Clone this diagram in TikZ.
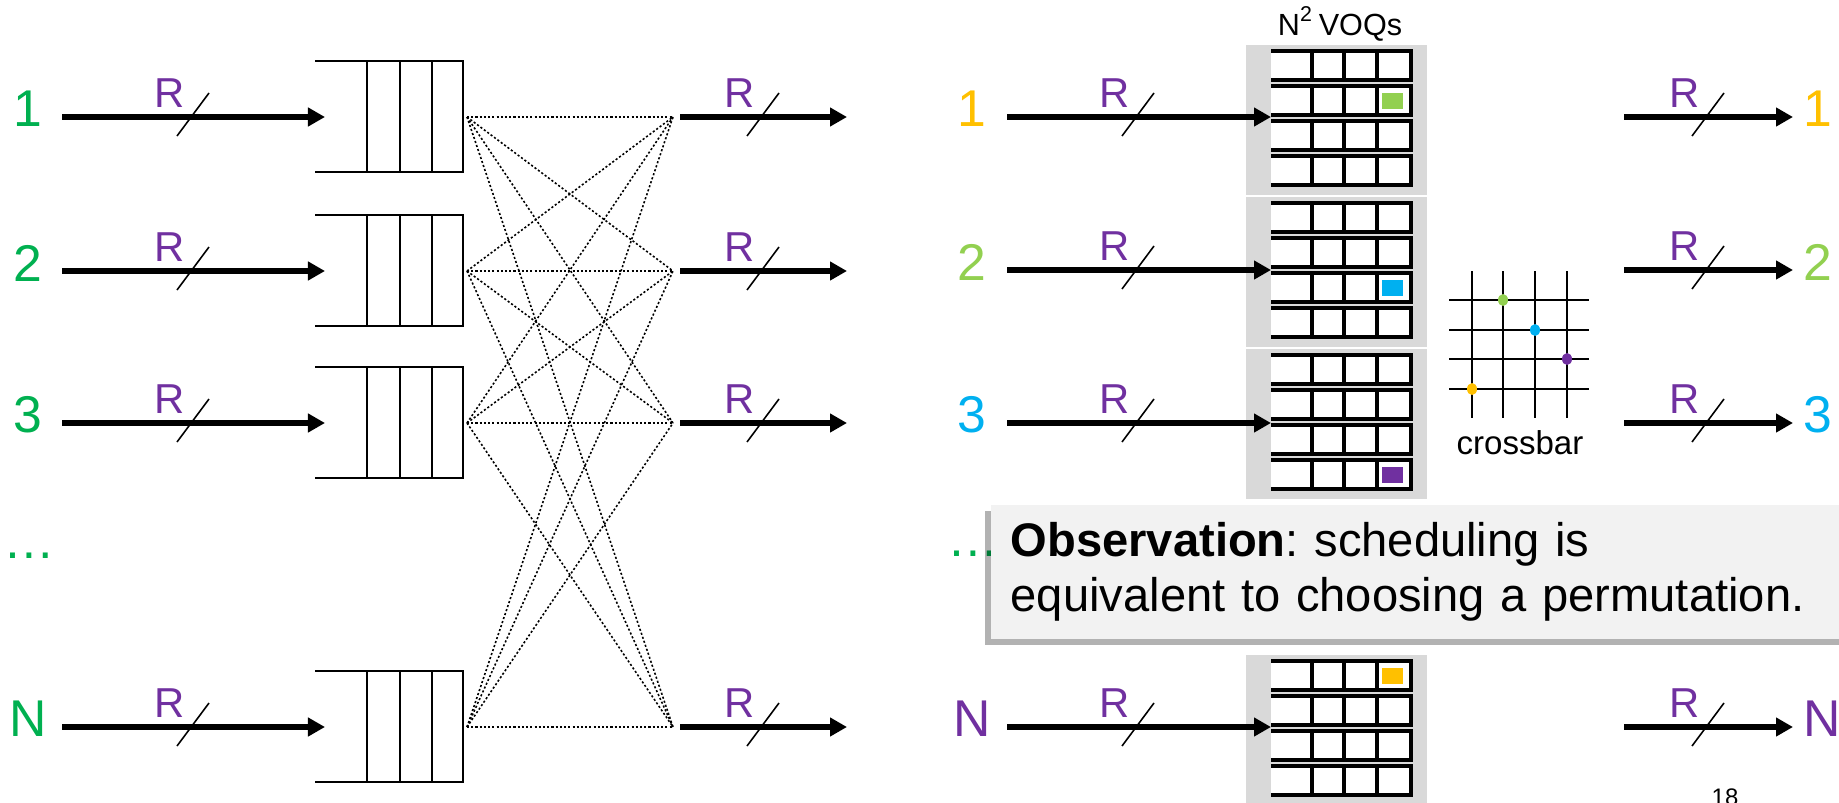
\documentclass[tikz,border=0pt]{standalone}
\usepackage{fontspec}
\setmainfont{Liberation Sans}
\usepackage{tikz}
\usetikzlibrary{arrows.meta,positioning,shadows}
\definecolor{PortGreen}{HTML}{00B050}
\definecolor{RatePurple}{HTML}{7030A0}
\definecolor{Amber}{HTML}{FFC000}
\definecolor{Lime}{HTML}{92D050}
\definecolor{Sky}{HTML}{00B0F0}
\definecolor{Panel}{HTML}{D9D9D9}
\definecolor{NoteBg}{HTML}{F2F2F2}

\begin{document}
\begin{tikzpicture}[
  x=0.01cm,y=-0.01cm,
  port/.style={font=\fontsize{14.7pt}{17pt}\selectfont,inner sep=0pt},
  ratelbl/.style={font=\fontsize{11.9pt}{14pt}\selectfont,text=RatePurple,inner sep=0pt},
  arrow/.style={-{Triangle[length=1.7mm,width=1.8mm]},line width=1.45pt},
  rateslash/.style={line width=0.45pt},
  qline/.style={line width=0.75pt},
  cell/.style={line width=0.9pt},
  mesh/.style={dash pattern=on 0.6pt off 0.6pt,line width=0.45pt},
  xbar/.style={line width=0.7pt},
  dots/.style={font=\fontsize{14.7pt}{17pt}\selectfont,text=PortGreen,inner sep=0pt,anchor=base},
  notebox/.style={fill=NoteBg,drop shadow={shadow xshift=-0.6mm,shadow yshift=-0.6mm,fill=black,opacity=0.3},
    text width=8.3cm,minimum height=1.34cm,inner xsep=0.2cm,align=left,anchor=north west,
    font=\fontsize{13.4pt}{15.6pt}\selectfont\frenchspacing}
]
\useasboundingbox (0,0) rectangle (1839,803);

% output-queued switch (left)
\foreach \i/\y/\t in {1/117/1,2/271/2,3/423/3,4/727/N} {
  \node[port,text=PortGreen] (inl\i) at (28,\y-8) {\t};
  \coordinate (sl\i) at (62,\y);
  \coordinate (ql\i) at (325,\y);
  \draw[qline] (315,\y-56) -- (463,\y-56) -- (463,\y+55) -- (315,\y+55);
  \foreach \x in {367,400,432} \draw[qline] (\x,\y-56) -- (\x,\y+55);
  \coordinate (qr\i) at (467,\y);
  \coordinate (ml\i) at (673,\y);
  \coordinate (ol\i) at (680,\y);
  \coordinate (el\i) at (847,\y);
  \draw[arrow] (sl\i) -- (ql\i);
  \draw[arrow] (ol\i) -- (el\i);
  \foreach \rx in {170,740} {
    \node[ratelbl] (rl\i-\rx) at (\rx,\y-24) {R};
    \draw[rateslash] (\rx+7,\y+19) -- (\rx+39,\y-24);
  }
}
\foreach \i in {1,...,4}
  \foreach \j in {1,...,4}
    \draw[mesh] (qr\i) -- (ml\j);
\node[dots] (dotl) at (29,558) {…};

% VOQ switch (right)
\node[inner sep=0pt,font=\fontsize{8.7pt}{10pt}\selectfont] (voqlbl) at (1340,24) {N\textsuperscript{2}\,VOQs};
\foreach \i/\y/\t/\lc/\top/\hr/\sc in {1/117/1/Amber/45/2/Lime,2/270/2/Lime/197/3/Sky,
    3/423/3/Sky/349/4/RatePurple,4/727/N/RatePurple/655/1/Amber} {
  \fill[Panel] (1246,\top) rectangle (1427,\top+150);
  \foreach \k in {1,...,4} {
    \pgfmathsetmacro\rt{\top+6+35*(\k-1)}
    \draw[cell,fill=white] (1271,\rt) -- (1411,\rt) -- (1411,\rt+29) -- (1271,\rt+29);
    \foreach \x in {1312,1344,1377} \draw[cell] (\x,\rt) -- (\x,\rt+29);
  }
  \fill[\sc] (1382,\top+12.5+35*\hr-35) rectangle (1403,\top+28.5+35*\hr-35);
  \node[port,text=\lc] (inr\i) at (972,\y-8) {\t};
  \coordinate (sr\i) at (1007,\y);
  \coordinate (vq\i) at (1271,\y);
  \coordinate (or\i) at (1624,\y);
  \coordinate (er\i) at (1793,\y);
  \node[port,text=\lc,anchor=west] (outr\i) at (1803,\y-8) {\t};
  \draw[arrow] (sr\i) -- (vq\i);
  \draw[arrow] (or\i) -- (er\i);
  \foreach \rx in {1115,1685} {
    \node[ratelbl] (rr\i-\rx) at (\rx,\y-24) {R};
    \draw[rateslash] (\rx+7,\y+19) -- (\rx+39,\y-24);
  }
}

% crossbar
\foreach \x in {1472,1503,1535,1567} \draw[xbar] (\x,271) -- (\x,418);
\foreach \y in {300,330,359,389} \draw[xbar] (1449,\y) -- (1589,\y);
\fill[Lime] (1503,300) ellipse (5 and 6);
\fill[Sky] (1535,330) ellipse (5 and 6);
\fill[RatePurple] (1567,359) ellipse (5 and 6);
\fill[Amber] (1472,389) ellipse (5 and 6);
\node[inner sep=0pt,font=\fontsize{9.4pt}{11pt}\selectfont] (xbarlbl) at (1520,443) {crossbar};

\node[dots] (dotr) at (973,556) {…};
\node[notebox] (obs) at (990,504) {\textbf{Observation}: scheduling is\\equivalent to choosing a permutation.};

\node[inner sep=0pt,anchor=north,font=\fontsize{6.8pt}{8pt}\selectfont] (pgno) at (1725,788) {18};
\end{tikzpicture}
\end{document}
